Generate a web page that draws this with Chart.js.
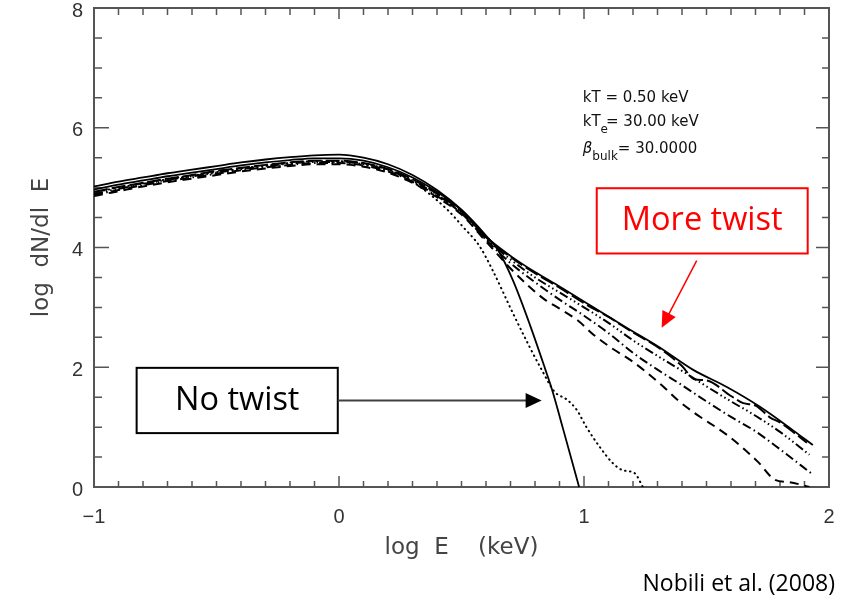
<!DOCTYPE html>
<html>
<head>
<meta charset="utf-8">
<script src="https://cdn.jsdelivr.net/npm/chart.js"></script>
<style>
  body { margin: 0; background: #fff; }
  canvas { display: block; }
</style>
</head>
<body>
<canvas id="myChart" width="859" height="598"></canvas>
<script>
// low energy part, all spectra share this grid (log E)
const logEBand = [-1, -0.9, -0.8, -0.7, -0.6, -0.5, -0.4, -0.3, -0.2, -0.1, 0, 0.1, 0.2, 0.3, 0.4, 0.5];

// no twist (solid, steep cutoff)
const noTwistBand = [5.02, 5.10, 5.17, 5.24, 5.30, 5.36, 5.42, 5.47, 5.51, 5.54, 5.55, 5.50, 5.39, 5.21, 4.96, 4.63];
const noTwistTailE = [0.6, 0.65, 0.71, 0.78, 0.84, 0.87, 0.916, 0.98];
const noTwistTail = [4.20, 3.95, 3.45, 2.70, 1.99, 1.62, 0.95, 0.0];

// most twist (solid)
const twistABand = [4.97, 5.05, 5.12, 5.19, 5.25, 5.31, 5.37, 5.42, 5.46, 5.49, 5.49, 5.45, 5.34, 5.17, 4.93, 4.62];
const twistATailE = [0.6, 0.7, 0.8, 0.9, 1.035, 1.174, 1.309, 1.444, 1.583, 1.718, 1.852, 1.934];
const twistATail = [4.18, 3.86, 3.59, 3.35, 3.01, 2.66, 2.33, 1.96, 1.67, 1.34, 0.95, 0.70];

// long dash
const twistBBand = [4.93, 5.01, 5.08, 5.15, 5.21, 5.28, 5.33, 5.38, 5.42, 5.45, 5.45, 5.41, 5.31, 5.14, 4.90, 4.60];
const twistBTailE = [0.6, 0.7, 0.8, 0.9, 1.0, 1.1, 1.2, 1.3, 1.4, 1.45, 1.5, 1.6, 1.65, 1.7, 1.76, 1.8, 1.85, 1.91];
const twistBTail = [4.17, 3.84, 3.57, 3.33, 3.07, 2.84, 2.58, 2.34, 2.02, 1.80, 1.78, 1.52, 1.40, 1.36, 1.16, 1.08, 0.93, 0.74];

// dash dot dot dot
const twistCBand = [4.90, 4.98, 5.06, 5.13, 5.19, 5.25, 5.31, 5.36, 5.40, 5.43, 5.43, 5.39, 5.29, 5.12, 4.88, 4.58];
const twistCTailE = [0.6, 0.7, 0.8, 0.9, 1.0, 1.1, 1.2, 1.3, 1.4, 1.5, 1.6, 1.7, 1.8, 1.92];
const twistCTail = [4.15, 3.80, 3.50, 3.25, 3.00, 2.74, 2.45, 2.19, 1.94, 1.68, 1.43, 1.19, 0.92, 0.54];

// dash dot
const twistDBand = [4.88, 4.96, 5.04, 5.11, 5.17, 5.23, 5.29, 5.34, 5.38, 5.41, 5.41, 5.37, 5.27, 5.10, 4.86, 4.57];
const twistDTailE = [0.6, 0.7, 0.8, 0.9, 1.0, 1.1, 1.2, 1.3, 1.4, 1.5, 1.6, 1.7, 1.8, 1.93];
const twistDTail = [4.13, 3.74, 3.42, 3.13, 2.86, 2.57, 2.24, 1.96, 1.70, 1.43, 1.17, 0.93, 0.63, 0.22];

// dashed
const twistFBand = [4.86, 4.94, 5.02, 5.09, 5.15, 5.21, 5.27, 5.32, 5.36, 5.39, 5.39, 5.35, 5.25, 5.08, 4.84, 4.55];
const twistFTailE = [0.6, 0.7, 0.77, 0.84, 0.9, 0.975, 1.04, 1.12, 1.19, 1.32, 1.38, 1.45, 1.59, 1.71, 1.78, 1.84, 1.92];
const twistFTail = [4.10, 3.65, 3.37, 3.13, 2.98, 2.78, 2.54, 2.30, 2.12, 1.69, 1.46, 1.24, 0.85, 0.42, 0.12, 0.08, 0.0];

// dotted
const dottedE = [-1, -0.9, -0.8, -0.7, -0.6, -0.5, -0.4, -0.3, -0.2, -0.1, 0, 0.1, 0.2, 0.3,
                 0.44, 0.505, 0.574, 0.627, 0.709, 0.778, 0.827, 0.88, 0.93, 0.97, 1.01, 1.064, 1.117, 1.158, 1.207, 1.24];
const dottedFlux = [4.92, 5.00, 5.07, 5.14, 5.20, 5.26, 5.32, 5.37, 5.41, 5.44, 5.44, 5.40, 5.30, 5.10,
                    4.64, 4.35, 4.02, 3.62, 2.91, 2.34, 1.96, 1.59, 1.46, 1.29, 1.00, 0.67, 0.40, 0.28, 0.23, 0.0];

const xTickLabels = { '-1': '\u22121', '0': '0', '1': '1', '2': '2' };

function pts(xs, ys) {
    return xs.map((v, i) => ({ x: v, y: ys[i] }));
}

function curve(data, dash, width) {
    return {
        data: data,
        showLine: true,
        borderColor: '#000',
        borderWidth: width || 1.8,
        borderDash: dash,
        pointRadius: 0,
        cubicInterpolationMode: 'monotone',
        fill: false
    };
}

// box round the plot with ticks pointing inside, like the IDL original
const boxTicks = {
    id: 'boxTicks',
    beforeDatasetsDraw(chart) {
        const { ctx, chartArea: a, scales: { x, y } } = chart;
        ctx.save();
        ctx.strokeStyle = '#555';
        ctx.lineWidth = 1.5;
        ctx.beginPath();
        for (let i = 0; i <= 30; i++) {
            const px = x.getPixelForValue(-1 + i / 10);
            const big = i % 10 === 0;
            ctx.moveTo(px, a.bottom); ctx.lineTo(px, a.bottom - (big ? 11 : 6));
            ctx.moveTo(px, a.top); ctx.lineTo(px, a.top + (big ? 11 : 7));
        }
        for (let i = 0; i <= 16; i++) {
            const py = y.getPixelForValue(i / 2);
            const big = i % 4 === 0;
            ctx.moveTo(a.left, py); ctx.lineTo(a.left + (big ? 15 : 8), py);
            ctx.moveTo(a.right, py); ctx.lineTo(a.right - (big ? 13 : 7), py);
        }
        ctx.stroke();
        ctx.lineWidth = 2;
        ctx.strokeRect(a.left, a.top, a.right - a.left, a.bottom - a.top);
        ctx.restore();
    }
};

function arrowHead(ctx, x0, y0, x1, y1, len, half) {
    const ang = Math.atan2(y1 - y0, x1 - x0);
    ctx.beginPath();
    ctx.moveTo(x1, y1);
    ctx.lineTo(x1 - len * Math.cos(ang) + half * Math.sin(ang), y1 - len * Math.sin(ang) - half * Math.cos(ang));
    ctx.lineTo(x1 - len * Math.cos(ang) - half * Math.sin(ang), y1 - len * Math.sin(ang) + half * Math.cos(ang));
    ctx.closePath();
    ctx.fill();
}

const notes = {
    id: 'notes',
    afterDraw(chart) {
        const { ctx, scales: { x, y } } = chart;
        const X = v => x.getPixelForValue(v);
        const Y = v => y.getPixelForValue(v);
        ctx.save();

        // model parameters
        ctx.fillStyle = '#111';
        ctx.textBaseline = 'middle';
        ctx.textAlign = 'left';
        const big = '15px "DejaVu Sans"', small = '12px "DejaVu Sans"';
        let px = X(0.995);
        ctx.font = big;
        ctx.fillText('kT = 0.50 keV', px, Y(6.49));
        ctx.fillText('kT', px, Y(6.09));
        let w = ctx.measureText('kT').width;
        ctx.font = small;
        ctx.fillText('e', px + w, Y(6.09) + 8);
        w += ctx.measureText('e').width - 2;
        ctx.font = big;
        ctx.fillText('= 30.00 keV', px + w, Y(6.09));
        ctx.font = 'italic 15px "DejaVu Sans"';
        ctx.fillText('\u03b2', px, Y(5.64));
        w = ctx.measureText('\u03b2').width;
        ctx.font = small;
        ctx.fillText('bulk', px + w, Y(5.64) + 8);
        w += ctx.measureText('bulk').width;
        ctx.font = big;
        ctx.fillText('= 30.0000', px + w, Y(5.64));

        // "More twist" box and red arrow
        ctx.strokeStyle = '#ff0000';
        ctx.fillStyle = '#ff0000';
        ctx.lineWidth = 2;
        const mx0 = X(1.052), mx1 = X(1.913), my0 = Y(4.99), my1 = Y(3.90);
        ctx.strokeRect(mx0, my0, mx1 - mx0, my1 - my0);
        ctx.font = '32.5px "Open Sans"';
        ctx.textAlign = 'center';
        ctx.fillText('More twist', (mx0 + mx1) / 2, (my0 + my1) / 2);
        ctx.lineWidth = 1.5;
        const rx0 = X(1.46), ry0 = Y(3.78), rx1 = X(1.317), ry1 = Y(2.66);
        ctx.beginPath();
        ctx.moveTo(rx0, ry0);
        ctx.lineTo(rx0 + (rx1 - rx0) * 0.8, ry0 + (ry1 - ry0) * 0.8);
        ctx.stroke();
        arrowHead(ctx, rx0, ry0, rx1, ry1, 16, 7.5);

        // "No twist" box and black arrow
        const nx0 = X(-0.826), nx1 = X(-0.005), ny0 = Y(1.99), ny1 = Y(0.90);
        ctx.fillStyle = '#fff';
        ctx.fillRect(nx0, ny0, nx1 - nx0, ny1 - ny0);
        ctx.strokeStyle = '#000';
        ctx.lineWidth = 2;
        ctx.strokeRect(nx0, ny0, nx1 - nx0, ny1 - ny0);
        ctx.fillStyle = '#000';
        ctx.fillText('No twist', (nx0 + nx1) / 2, (ny0 + ny1) / 2);
        const ay = (ny0 + ny1) / 2, tipX = X(0.827);
        ctx.strokeStyle = '#404040';
        ctx.beginPath();
        ctx.moveTo(nx1, ay);
        ctx.lineTo(tipX - 14, ay);
        ctx.stroke();
        ctx.fillStyle = '#000';
        arrowHead(ctx, nx1, ay, tipX, ay, 16, 7.5);

        // source
        ctx.font = '23px "Open Sans"';
        ctx.textAlign = 'right';
        ctx.fillStyle = '#000';
        ctx.fillText('Nobili et al. (2008)', X(2) + 6, chart.height - 14);
        ctx.restore();
    }
};

const ctx = document.querySelector('#myChart');
new Chart(ctx, {
    type: 'scatter',
    data: {
        datasets: [
            curve(pts(logEBand.concat(noTwistTailE), noTwistBand.concat(noTwistTail)), [], 1.8),
            curve(pts(logEBand.concat(twistATailE), twistABand.concat(twistATail)), [], 1.8),
            curve(pts(logEBand.concat(twistBTailE), twistBBand.concat(twistBTail)), [14, 4], 2),
            curve(pts(logEBand.concat(twistCTailE), twistCBand.concat(twistCTail)), [9, 3, 1.5, 3, 1.5, 3, 1.5, 3], 2),
            curve(pts(logEBand.concat(twistDTailE), twistDBand.concat(twistDTail)), [9, 3.5, 1.5, 3.5], 2),
            curve(pts(logEBand.concat(twistFTailE), twistFBand.concat(twistFTail)), [9, 6], 2),
            Object.assign(curve(pts(dottedE, dottedFlux), [0.5, 4.5], 2), { borderCapStyle: 'round' })
        ]
    },
    options: {
        responsive: false,
        animation: false,
        layout: { padding: { top: 0, right: 30, left: 0, bottom: 0 } },
        plugins: { legend: { display: false }, tooltip: { enabled: false } },
        scales: {
            x: {
                type: 'linear',
                min: -1,
                max: 2,
                grid: { display: false, drawTicks: false },
                border: { display: false },
                ticks: {
                    stepSize: 1,
                    padding: 18,
                    color: '#333',
                    font: { family: 'Liberation Sans', size: 20 },
                    callback: v => xTickLabels[String(v)] ?? ''
                },
                title: {
                    display: true,
                    text: 'log  E    (keV)',
                    color: '#444',
                    font: { family: 'DejaVu Sans', size: 23 },
                    padding: { top: 0, bottom: 36 }
                },
                afterFit: s => { s.height = 111; }
            },
            y: {
                min: 0,
                max: 8,
                grid: { display: false, drawTicks: false },
                border: { display: false },
                ticks: {
                    stepSize: 2,
                    padding: 11,
                    labelOffset: 3,
                    color: '#333',
                    font: { family: 'Liberation Sans', size: 20 }
                },
                title: {
                    display: true,
                    text: 'log  dN/dl  E',
                    color: '#444',
                    font: { family: 'DejaVu Sans', size: 23 },
                    padding: { top: 28, bottom: 0 }
                },
                afterFit: s => { s.width = 94; s.paddingTop = 8; s.paddingBottom = 0; }
            }
        }
    },
    plugins: [boxTicks, notes]
});
</script>
</body>
</html>
